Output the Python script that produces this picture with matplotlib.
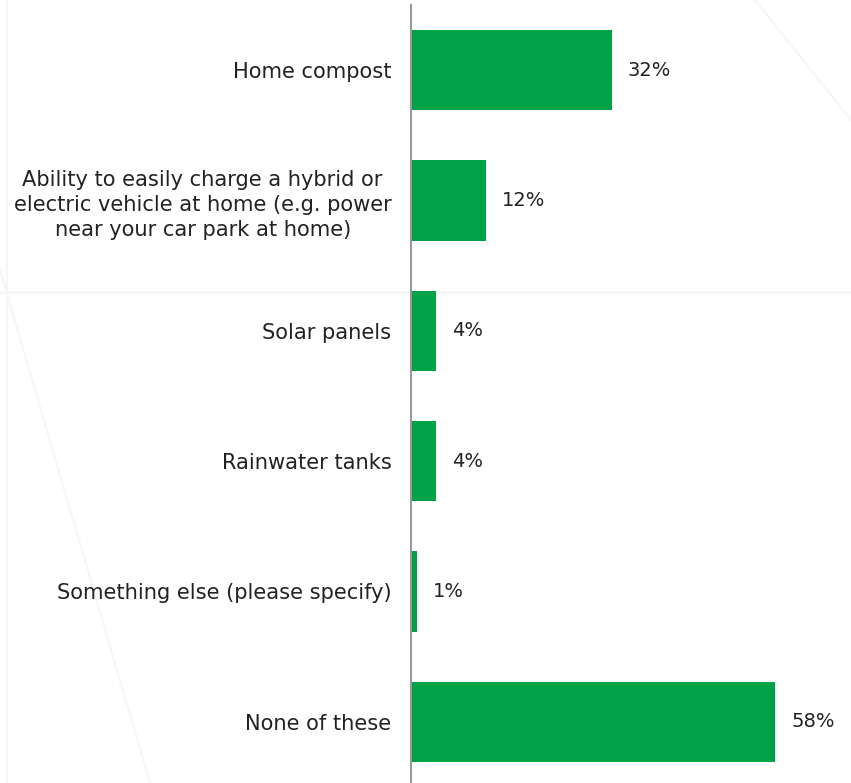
import matplotlib
matplotlib.use("Agg")
import matplotlib.pyplot as plt
from matplotlib.lines import Line2D

categories = [
    "Home compost",
    "Ability to easily charge a hybrid or\nelectric vehicle at home (e.g. power\nnear your car park at home)",
    "Solar panels",
    "Rainwater tanks",
    "Something else (please specify)",
    "None of these",
]
values = [32, 12, 4, 4, 1, 58]
value_labels = ["32%", "12%", "4%", "4%", "1%", "58%"]

W, H = 851, 783
fig = plt.figure(figsize=(W / 100, H / 100), dpi=100)
fig.patch.set_facecolor("white")

# faint decorative background lines
bg = "#f6f6f6"
fig.add_artist(Line2D([0, 1], [1 - 292 / H, 1 - 292 / H], color=bg, lw=2, transform=fig.transFigure, zorder=0))
fig.add_artist(Line2D([7 / W, 7 / W], [0, 1], color=bg, lw=1.5, transform=fig.transFigure, zorder=0))
fig.add_artist(Line2D([0, 150 / W], [1 - 270 / H, 0], color=bg, lw=1.5, transform=fig.transFigure, zorder=0))
fig.add_artist(Line2D([755 / W, 1], [1, 1 - 120 / H], color=bg, lw=1.5, transform=fig.transFigure, zorder=0))

ax = fig.add_axes([411 / W, 0, 1 - 411 / W, 1 - 5 / H])
ax.patch.set_alpha(0)
y = list(range(len(categories)))
ax.barh(y, values, height=0.615, color="#00a247", zorder=2)
ax.set_xlim(0, 70.1)
ax.set_ylim(len(categories) - 0.53, -0.5)

for s in ["top", "right", "bottom"]:
    ax.spines[s].set_visible(False)
ax.spines["left"].set_color("#999999")
ax.spines["left"].set_linewidth(1.5)
ax.set_xticks([])
ax.set_yticks(y)
ax.set_yticklabels(categories, fontsize=15.1, color="#222222", family="DejaVu Sans",
                   linespacing=1.32, ha="right", multialignment="center")
ax.tick_params(axis="y", length=0, pad=14)

for yi, v, lab in zip(y, values, value_labels):
    ax.annotate(lab, (v, yi), xytext=(16, 0), textcoords="offset pixels",
                va="center", ha="left", fontsize=14, color="#222222")

fig.savefig("out.png", dpi=100, facecolor="white")
